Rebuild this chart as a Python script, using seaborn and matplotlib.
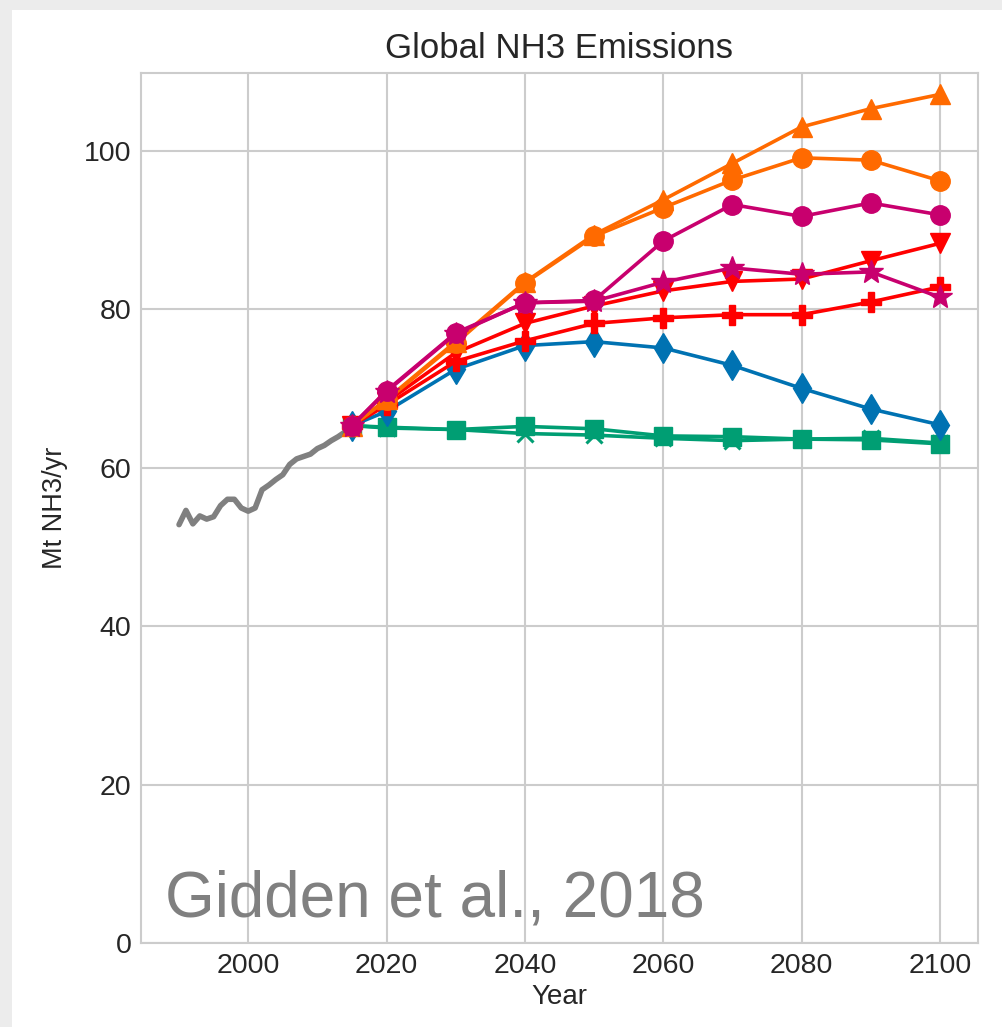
import matplotlib
matplotlib.use("Agg")
import matplotlib.pyplot as plt
from matplotlib.patches import Rectangle
import numpy as np
import pandas as pd
import seaborn as sns

# ---------------- data ----------------
hist_years = list(range(1990, 2016))
hist_values = [52.8, 54.6, 52.9, 53.9, 53.5, 53.8, 55.2, 56.0, 56.0, 54.9,
               54.5, 54.9, 57.2, 57.8, 58.5, 59.1, 60.4, 61.1, 61.4, 61.7,
               62.4, 62.8, 63.4, 63.9, 64.5, 65.2]

years = [2015, 2020, 2030, 2040, 2050, 2060, 2070, 2080, 2090, 2100]

ssp1_19 = [65.3, 65.0, 64.8, 64.3, 64.1, 63.7, 63.4, 63.6, 63.7, 63.1]
ssp1_26 = [65.3, 65.1, 64.8, 65.2, 64.9, 64.0, 63.9, 63.6, 63.5, 63.0]
ssp2_45 = [65.3, 67.1, 72.4, 75.4, 75.9, 75.1, 72.9, 70.0, 67.4, 65.4]
ssp4_34 = [65.3, 67.9, 73.4, 76.0, 78.2, 78.9, 79.3, 79.3, 80.9, 82.8]
ssp4_60 = [65.3, 68.3, 74.5, 78.2, 80.4, 82.3, 83.5, 83.8, 86.1, 88.3]
ssp3_lowntcf = [65.3, 68.5, 75.7, 83.3, 89.2, 92.8, 96.3, 99.1, 98.8, 96.2]
ssp3_70 = [65.3, 68.6, 75.9, 83.4, 89.4, 93.8, 98.4, 103.0, 105.3, 107.1]
ssp5_34os = [65.3, 69.6, 76.9, 80.8, 81.0, 83.4, 85.2, 84.4, 84.7, 81.5]
ssp5_85 = [65.3, 69.7, 77.0, 80.8, 81.1, 88.6, 93.2, 91.7, 93.4, 91.9]

scenario_names = ["SSP1-1.9", "SSP1-2.6", "SSP2-4.5", "SSP4-3.4", "SSP4-6.0",
                  "SSP3-LowNTCF", "SSP3-7.0", "SSP5-3.4-OS", "SSP5-8.5"]
scenario_values = [ssp1_19, ssp1_26, ssp2_45, ssp4_34, ssp4_60,
                   ssp3_lowntcf, ssp3_70, ssp5_34os, ssp5_85]

colors = {"SSP1-1.9": "#009E73", "SSP1-2.6": "#009E73", "SSP2-4.5": "#0072B2",
          "SSP4-3.4": "#FF0000", "SSP4-6.0": "#FF0000",
          "SSP3-LowNTCF": "#FF6A00", "SSP3-7.0": "#FF6A00",
          "SSP5-3.4-OS": "#C8006E", "SSP5-8.5": "#C8006E"}
markers = {"SSP1-1.9": "x", "SSP1-2.6": "s", "SSP2-4.5": "d",
           "SSP4-3.4": "P", "SSP4-6.0": "v",
           "SSP3-LowNTCF": "o", "SSP3-7.0": "^",
           "SSP5-3.4-OS": "*", "SSP5-8.5": "o"}

rows = []
for name, vals in zip(scenario_names, scenario_values):
    for y, v in zip(years, vals):
        rows.append({"Year": y, "value": v, "scenario": name})
df = pd.DataFrame(rows)
hist = pd.DataFrame({"Year": hist_years, "value": hist_values})

# ---------------- style ----------------
sns.set_theme(style="whitegrid")
plt.rcParams["font.family"] = ["Liberation Sans", "DejaVu Sans"]
plt.rcParams["axes.edgecolor"] = "#cccccc"
plt.rcParams["grid.color"] = "#cccccc"

fig = plt.figure(figsize=(10.02, 10.27), dpi=100)
ax = fig.add_axes([0.1407, 0.0818, 0.976 - 0.1407, 0.9289 - 0.0818])

# screenshot shadow bands
fig.patches.append(Rectangle((0, 0), 0.012, 1, transform=fig.transFigure,
                             facecolor="#ececec", edgecolor="none", zorder=-1))
fig.patches.append(Rectangle((0, 0.990), 1, 0.010, transform=fig.transFigure,
                             facecolor="#ececec", edgecolor="none", zorder=-1))

sns.lineplot(data=hist, x="Year", y="value", color="#808080", linewidth=4.0,
             ax=ax, legend=False)

for name in scenario_names:
    sub = df[df["scenario"] == name]
    m = markers[name]
    ms = {"x": 11, "s": 13, "d": 15, "P": 14, "v": 14, "o": 14, "^": 14, "*": 18}[m]
    sns.lineplot(data=sub, x="Year", y="value", color=colors[name], marker=m,
                 markersize=ms, markeredgecolor=colors[name],
                 markeredgewidth=2.2 if m == "x" else 1.0,
                 linewidth=2.6, ax=ax, legend=False)

ax.set_xlim(1984.5, 2105.5)
ax.set_ylim(0, 109.8)
ax.set_xticks([2000, 2020, 2040, 2060, 2080, 2100])
ax.set_yticks([0, 20, 40, 60, 80, 100])
ax.tick_params(labelsize=20.5, pad=7, colors="#262626", length=0)
for s in ax.spines.values():
    s.set_color("#cccccc")
    s.set_linewidth(1.5)
ax.grid(True, color="#cccccc", linewidth=1.5)

ax.set_title("Global NH3 Emissions", fontsize=25, pad=11, color="#262626")
ax.set_xlabel("Year", fontsize=20, labelpad=4, color="#262626")
ax.set_ylabel("Mt NH3/yr", fontsize=19.5, labelpad=11, color="#262626")

ax.text(0.029, 0.030, "Gidden et al., 2018", transform=ax.transAxes,
        fontsize=46, color="#808080", ha="left", va="baseline")

fig.savefig("out.png", dpi=100)
